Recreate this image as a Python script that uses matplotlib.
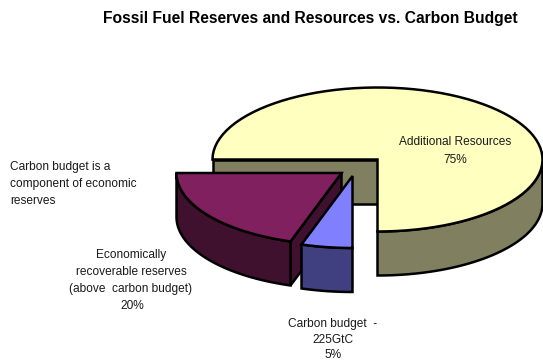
# -*- coding: utf-8 -*-

import numpy as np
import matplotlib.pyplot as plt
from matplotlib.patches import Polygon

plt.rcParams['font.family'] = ['Liberation Sans', 'DejaVu Sans']

# 数据
labels = ["Additional Resources", "Economically\nrecoverable reserves\n(above  carbon budget)", "Carbon budget  -\n225GtC"]
shares = [75, 20, 5]
title = "Fossil Fuel Reserves and Resources vs. Carbon Budget"
note = "Carbon budget is a\ncomponent of economic\nreserves"

top_colors = ["#ffffc0", "#80205e", "#8080ff"]
side_colors = ["#808060", "#40102f", "#404080"]

# 椭圆半径和厚度（像素）
RX = 165.0
RY = 72.0
DEPTH = 44.0
EDGE = 1.8


def rim(cx, cy, a1, a2, n=80):
    a = np.radians(np.linspace(a1, a2, n))
    return np.column_stack([cx + RX * np.cos(a), cy - RY * np.sin(a)])


def poly(ax, pts, color, z):
    ax.add_patch(Polygon(pts, closed=True, facecolor=color, edgecolor="black",
                         linewidth=EDGE, joinstyle="miter", zorder=z))


def wall(ax, pts, color, z):
    pts = np.asarray(pts)
    low = pts[::-1] + [0, DEPTH]
    poly(ax, np.vstack([pts, low]), color, z)


fig = plt.figure(figsize=(5.43, 3.6), dpi=100)
ax = fig.add_axes([0, 0, 1, 1])
ax.set_xlim(0, 543)
ax.set_ylim(360, 0)
ax.axis("off")

# 扇区角度：从正下方（270 度）开始顺时针排列小块，大块占其余部分
span = [s / sum(shares) * 360 for s in shares]
blue_a = (270 - span[2], 270)
purple_a = (blue_a[0] - span[1], blue_a[0])
yellow_a = (270, 270 + span[0])

# 大块
c0 = (377.5, 159.5)
wall(ax, [[c0[0] - RX, c0[1]], c0], side_colors[0], 1)
wall(ax, rim(c0[0], c0[1], 270, 360), side_colors[0], 1)
poly(ax, np.vstack([rim(c0[0], c0[1], *yellow_a), [c0]]), top_colors[0], 2)

# 紫色块
c1 = (341.5, 173.0)
corner = rim(c1[0], c1[1], purple_a[1], purple_a[1], 1)
wall(ax, [c1, corner[0]], side_colors[1], 3)
wall(ax, rim(c1[0], c1[1], purple_a[0], purple_a[1]), side_colors[1], 3)
poly(ax, np.vstack([rim(c1[0], c1[1], *purple_a), [c1]]), top_colors[1], 4)

# 蓝色块
c2 = (352.5, 176.0)
wall(ax, rim(c2[0], c2[1], *blue_a), side_colors[2], 5)
poly(ax, np.vstack([rim(c2[0], c2[1], *blue_a), [c2]]), top_colors[2], 6)

# 文字
FS = 8.6
col = "#1a1a1a"
ax.text(310.5, 18, title, fontsize=11.25, fontweight="bold", ha="center", va="center", color="black")
ax.text(455, 142, labels[0], fontsize=FS, ha="center", va="center", color=col)
ax.text(455, 160, "{}%".format(shares[0]), fontsize=FS, ha="center", va="center", color=col)
ax.text(10, 184, note, fontsize=FS, ha="left", va="center", color=col, linespacing=1.56)
ax.text(131, 272, labels[1], fontsize=FS, ha="center", va="center", color=col, linespacing=1.56)
ax.text(132, 306, "{}%".format(shares[1]), fontsize=FS, ha="center", va="center", color=col)
ax.text(333, 332, labels[2], fontsize=FS, ha="center", va="center", color=col, linespacing=1.35)
ax.text(333, 355, "{}%".format(shares[2]), fontsize=FS, ha="center", va="center", color=col)

fig.savefig("out.png", dpi=100)
